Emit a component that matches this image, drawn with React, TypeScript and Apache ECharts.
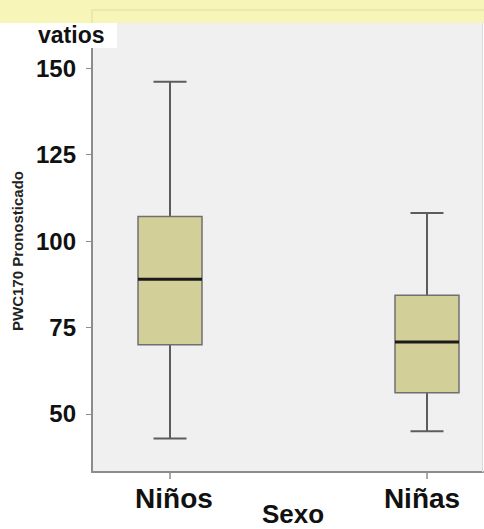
import React, { useEffect, useRef } from "react";
import * as echarts from "echarts";

const categories = ["Niños", "Niñas"];
const lowWhisker = [42.9, 45.0];
const q1 = [70.0, 56.1];
const median = [89.0, 70.8];
const q3 = [107.1, 84.3];
const highWhisker = [146.1, 108.1];
const yTicks = [50, 75, 100, 125, 150];
const yMin = 33.2;
const yMax = 163.1;

export default function App() {
  const ref = useRef<HTMLDivElement>(null);
  useEffect(() => {
    const chart = echarts.init(ref.current!, null, { renderer: "svg" });
    const font = "'Liberation Sans', Arial, sans-serif";
    const data = categories.map((c, i) => [i, lowWhisker[i], q1[i], median[i], q3[i], highWhisker[i]]);
    const catLabelStyle = { fontFamily: font, fontSize: 28, fontWeight: "bold", color: "#111" };
    chart.setOption({
      animation: false,
      backgroundColor: "#ffffff",
      textStyle: { fontFamily: font },
      grid: [
        { left: 92, top: 23, right: 1, bottom: 57, show: true, backgroundColor: "#F0F0F0", borderWidth: 0, outerBoundsMode: "none", containLabel: false },
        { left: 170, top: 23, right: 57, bottom: 57, show: false, outerBoundsMode: "none", containLabel: false },
      ],
      xAxis: [
        {
          gridIndex: 0, type: "value", min: 0, max: 1,
          axisLine: { show: true, onZero: false, lineStyle: { color: "#8c8c8c", width: 2 } },
          axisTick: { show: false }, axisLabel: { show: false }, splitLine: { show: false },
          name: "Sexo", nameLocation: "middle", nameGap: 32,
          nameTextStyle: { fontFamily: font, fontSize: 26, lineHeight: 20, fontWeight: "bold", color: "#111", padding: [0, 0, 0, 11] },
        },
        {
          gridIndex: 1, type: "category", data: categories, boundaryGap: false,
          axisLine: { show: false },
          axisTick: { show: true, length: 7, lineStyle: { color: "#8c8c8c", width: 1.5 } },
          axisLabel: {
            ...catLabelStyle,
            margin: 12,
            formatter: (v: string, i: number) => (i === 0 ? `{a|${v}}` : `{b|${v}}`),
            rich: {
              a: { ...catLabelStyle, padding: [0, 0, 0, 8] },
              b: { ...catLabelStyle, padding: [0, 10, 0, 0] },
            },
          },
          splitLine: { show: false },
        },
      ],
      yAxis: [
        {
          gridIndex: 0, type: "value", min: yMin, max: yMax,
          axisLine: { show: true, onZero: false, lineStyle: { color: "#8c8c8c", width: 2 } },
          axisTick: { show: true, length: 6, customValues: yTicks, lineStyle: { color: "#8c8c8c", width: 1 } },
          axisLabel: {
            customValues: yTicks, fontFamily: font, fontSize: 24, fontWeight: "bold", color: "#111",
            margin: 16, padding: [4, 0, 0, 0],
          },
          splitLine: { show: false },
          name: "PWC170 Pronosticado", nameLocation: "middle", nameGap: 67,
          nameTextStyle: { fontFamily: font, fontSize: 15, fontWeight: "bold", color: "#222", padding: [0, 7, 0, 0] },
        },
        { gridIndex: 1, type: "value", min: yMin, max: yMax, show: false },
      ],
      series: [
        {
          type: "custom",
          xAxisIndex: 1,
          yAxisIndex: 1,
          data,
          encode: { x: 0, y: [1, 2, 3, 4, 5] },
          renderItem: (params: any, api: any) => {
            const idx = api.value(0);
            const pLow = api.coord([idx, api.value(1)]);
            const pQ1 = api.coord([idx, api.value(2)]);
            const pMed = api.coord([idx, api.value(3)]);
            const pQ3 = api.coord([idx, api.value(4)]);
            const pHigh = api.coord([idx, api.value(5)]);
            const x = pMed[0];
            const bw = 64;
            const cw = 33;
            const wh = { stroke: "#5c5c5c", lineWidth: 2 };
            return {
              type: "group",
              children: [
                { type: "line", shape: { x1: x, y1: pHigh[1], x2: x, y2: pQ3[1] }, style: wh },
                { type: "line", shape: { x1: x, y1: pQ1[1], x2: x, y2: pLow[1] }, style: wh },
                { type: "line", shape: { x1: x - cw / 2, y1: pHigh[1], x2: x + cw / 2, y2: pHigh[1] }, style: wh },
                { type: "line", shape: { x1: x - cw / 2, y1: pLow[1], x2: x + cw / 2, y2: pLow[1] }, style: wh },
                {
                  type: "rect",
                  shape: { x: x - bw / 2, y: pQ3[1], width: bw, height: pQ1[1] - pQ3[1] },
                  style: { fill: "#D3CF98", stroke: "#707070", lineWidth: 1.5 },
                },
                {
                  type: "line",
                  shape: { x1: x - bw / 2, y1: pMed[1], x2: x + bw / 2, y2: pMed[1] },
                  style: { stroke: "#1a1a1a", lineWidth: 3 },
                },
              ],
            };
          },
        },
      ],
      graphic: [
        { type: "rect", z: 100, shape: { x: 0, y: 0, width: 484, height: 23 }, style: { fill: "#F8F5B9" } },
        {
          type: "polyline", z: 101,
          shape: { points: [[92, 23], [92, 10], [484, 10]] },
          style: { stroke: "#E6E4AE", lineWidth: 1.5, fill: "none" },
        },
        { type: "line", z: 100, shape: { x1: 482.5, y1: 23, x2: 482.5, y2: 472 }, style: { stroke: "#DADADA", lineWidth: 1 } },
        { type: "rect", z: 100, shape: { x: 0, y: 23, width: 117, height: 25 }, style: { fill: "#ffffff" } },
        {
          type: "text", z: 101, x: 38, y: 35,
          style: { text: "vatios", font: `bold 23px ${font}`, fill: "#111", verticalAlign: "middle", align: "left" },
        },
      ],
    });
    return () => chart.dispose();
  }, []);
  return <div ref={ref} style={{ position: "fixed", left: 0, top: 0, width: 484, height: 529 }} />;
}
